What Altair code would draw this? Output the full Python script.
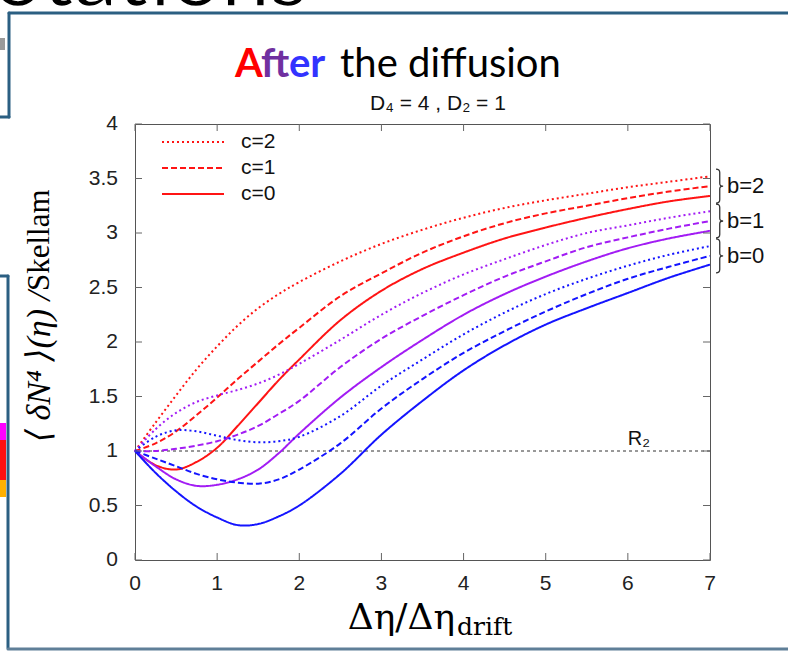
import altair as alt
import pandas as pd

# ---------------- data ----------------
x_vals = [0, 0.25, 0.5, 0.75, 1, 1.25, 1.5, 1.75, 2, 2.5, 3, 3.5, 4, 4.5, 5, 5.5, 6, 6.5, 7]

b2_c2 = [1, 1.26, 1.51, 1.75, 1.96, 2.15, 2.31, 2.44, 2.55, 2.74, 2.90, 3.03, 3.14, 3.23, 3.30, 3.36, 3.42, 3.47, 3.52]
b2_c1 = [1, 1.07, 1.18, 1.33, 1.49, 1.66, 1.82, 1.98, 2.13, 2.42, 2.63, 2.82, 2.97, 3.09, 3.18, 3.25, 3.32, 3.38, 3.43]
b2_c0 = [1, 0.87, 0.83, 0.90, 1.03, 1.23, 1.44, 1.65, 1.84, 2.20, 2.47, 2.67, 2.82, 2.95, 3.05, 3.14, 3.22, 3.29, 3.34]

b1_c2 = [1, 1.20, 1.35, 1.45, 1.51, 1.56, 1.62, 1.70, 1.80, 2.02, 2.25, 2.45, 2.62, 2.76, 2.89, 3.00, 3.07, 3.14, 3.20]
b1_c1 = [1, 1.00, 1.02, 1.05, 1.09, 1.15, 1.23, 1.34, 1.46, 1.77, 2.03, 2.24, 2.43, 2.60, 2.74, 2.87, 2.96, 3.04, 3.11]
b1_c0 = [1, 0.86, 0.74, 0.68, 0.69, 0.74, 0.83, 0.98, 1.16, 1.49, 1.77, 2.02, 2.25, 2.44, 2.60, 2.74, 2.86, 2.95, 3.02]

b0_c2 = [1, 1.13, 1.19, 1.18, 1.14, 1.10, 1.08, 1.09, 1.13, 1.32, 1.60, 1.84, 2.07, 2.27, 2.44, 2.58, 2.70, 2.80, 2.88]
b0_c1 = [1, 0.93, 0.86, 0.79, 0.74, 0.71, 0.70, 0.74, 0.83, 1.07, 1.39, 1.66, 1.90, 2.10, 2.28, 2.44, 2.58, 2.69, 2.79]
b0_c0 = [1, 0.80, 0.63, 0.49, 0.39, 0.32, 0.33, 0.40, 0.50, 0.79, 1.15, 1.46, 1.74, 1.97, 2.16, 2.31, 2.45, 2.59, 2.71]

b_labels = ["b=2", "b=1", "b=0"]
c_labels = ["c=2", "c=1", "c=0"]
x_ticks = [0, 1, 2, 3, 4, 5, 6, 7]
x_tick_labels = ["0", "1", "2", "3", "4", "5", "6", "7"]
y_ticks = [0, 0.5, 1, 1.5, 2, 2.5, 3, 3.5, 4]
y_tick_labels = ["0", "0.5", "1", "1.5", "2", "2.5", "3", "3.5", "4"]
ref_level = [1]
ref_label = ["R₂"]
ref_label_x = [6.0]

series = [
    ("b=2", "c=2", b2_c2), ("b=2", "c=1", b2_c1), ("b=2", "c=0", b2_c0),
    ("b=1", "c=2", b1_c2), ("b=1", "c=1", b1_c1), ("b=1", "c=0", b1_c0),
    ("b=0", "c=2", b0_c2), ("b=0", "c=1", b0_c1), ("b=0", "c=0", b0_c0),
]
rows = []
for b, c, ys in series:
    for xv, yv in zip(x_vals, ys):
        rows.append({"x": xv, "y": yv, "b": b, "c": c})
df = pd.DataFrame(rows)

brace_df = pd.DataFrame({
    "b": b_labels,
    "x": [x_vals[-1]] * 3,
    "y": [b2_c1[-1], b1_c1[-1], b0_c1[-1]],
})
xtick_df = pd.DataFrame({"t": x_ticks, "lab": x_tick_labels})
ytick_df = pd.DataFrame({"t": y_ticks, "lab": y_tick_labels})

# ---------------- layout ----------------
W, H = 575, 436
SANS = "'Liberation Sans', Arial, sans-serif"
SERIF = "'Liberation Serif', 'DejaVu Serif', serif"
DSERIF = "'DejaVu Serif', serif"
TITLE_FONT = "Lato, 'Open Sans', sans-serif"
BRACE = "M0,-1 Q0.22,-1 0.22,-0.8 L0.22,-0.16 Q0.22,0 0.42,0 Q0.22,0 0.22,0.16 L0.22,0.8 Q0.22,1 0,1"

x_scale = alt.Scale(domain=[0, 7], nice=False, zero=False)
y_scale = alt.Scale(domain=[0, 4], nice=False, zero=False)
color_scale = alt.Scale(domain=b_labels, range=["#ff1414", "#a21cf4", "#1414ff"])
dash_scale = alt.Scale(domain=c_labels, range=[[2, 3], [6, 3], [1, 0]])

one = pd.DataFrame({"k": [0]})


def label(text, x, y, size, color="#000000", font=SANS, weight="normal",
          align="left", baseline="alphabetic", angle=0, style="normal"):
    return alt.Chart(one).mark_text(
        text=text, align=align, baseline=baseline, fontSize=size, font=font,
        fontWeight=weight, color=color, angle=angle, fontStyle=style,
    ).encode(x=alt.value(x), y=alt.value(y))


def seg(x1, x2, y1, y2, color="#2b5f82", width=3):
    return alt.Chart(one).mark_rule(color=color, strokeWidth=width, strokeCap="round").encode(
        x=alt.value(x1), x2=alt.value(x2), y=alt.value(y1), y2=alt.value(y2))


def box(x1, x2, y1, y2, color):
    return alt.Chart(one).mark_rect(color=color).encode(
        x=alt.value(x1), x2=alt.value(x2), y=alt.value(y1), y2=alt.value(y2))


# slide decorations (pixel offsets relative to plot origin at 135,124)
deco = [
    alt.Chart(one).mark_text(text="otations", align="left", baseline="alphabetic",
                             fontSize=88, font=TITLE_FONT, color="#000000",
                             stroke="#ffffff", strokeWidth=1.5).encode(
        x=alt.value(-142), y=alt.value(-118)),
    seg(-126, 653, -111, -111),
    seg(-126, -126, -111, -7),
    seg(-135, -126, -7, -7),
    seg(-135, -127, 152, 152),
    seg(-127, -127, 152, 524),
    seg(-127, 653, 525, 525, color="#5f7f98", width=3),
    box(-135, -130, -86, -74, "#9a9a9a"),
    box(-135, -129, 299, 316, "#ff00ff"),
    box(-135, -129, 316, 356, "#ff1010"),
    box(-135, -129, 356, 373, "#ffb000"),
]

ref_line = alt.Chart(pd.DataFrame({"r": ref_level})).mark_rule(
    color="#333333", strokeWidth=1, strokeDash=[3, 3]).encode(
    y=alt.Y("r:Q", scale=y_scale, axis=None))

lines = alt.Chart(df).mark_line(strokeWidth=2, interpolate="catmull-rom").encode(
    x=alt.X("x:Q", scale=x_scale, axis=None),
    y=alt.Y("y:Q", scale=y_scale, axis=None),
    color=alt.Color("b:N", scale=color_scale, legend=None),
    strokeDash=alt.StrokeDash(
        "c:N", scale=dash_scale, sort=c_labels,
        legend=alt.Legend(title=None, orient="none", legendX=47, legendY=7,
                          symbolType="M-3.1,0H3.1", symbolSize=400, symbolStrokeWidth=2,
                          symbolStrokeColor="#ff1414", labelFontSize=21, labelFont=SANS,
                          labelColor="#111111", labelOffset=37, padding=0, rowPadding=5)),
    detail="b:N",
)

t_bottom = alt.Chart(xtick_df).mark_rule(color="#666666", strokeWidth=1).encode(
    x=alt.X("t:Q", scale=x_scale, axis=None), y=alt.value(H), y2=alt.value(H - 7))
t_top = alt.Chart(xtick_df).mark_rule(color="#666666", strokeWidth=1).encode(
    x=alt.X("t:Q", scale=x_scale, axis=None), y=alt.value(0), y2=alt.value(7))
t_left = alt.Chart(ytick_df).mark_rule(color="#666666", strokeWidth=1).encode(
    y=alt.Y("t:Q", scale=y_scale, axis=None), x=alt.value(0), x2=alt.value(7))
t_right = alt.Chart(ytick_df).mark_rule(color="#666666", strokeWidth=1).encode(
    y=alt.Y("t:Q", scale=y_scale, axis=None), x=alt.value(W - 7), x2=alt.value(W))

x_labels = alt.Chart(xtick_df).mark_text(
    align="center", baseline="middle", fontSize=21, font=SANS, color="#222222").encode(
    x=alt.X("t:Q", scale=x_scale, axis=None), y=alt.value(H + 24), text="lab:N")
y_labels = alt.Chart(ytick_df).mark_text(
    align="right", baseline="middle", fontSize=21, font=SANS, color="#222222").encode(
    y=alt.Y("t:Q", scale=y_scale, axis=None), x=alt.value(-17), text="lab:N")

r2 = alt.Chart(pd.DataFrame({"x": ref_label_x, "y": ref_level, "t": ref_label})).mark_text(
    align="left", baseline="alphabetic", dy=-6, fontSize=20, font=SANS, color="#111111").encode(
    x=alt.X("x:Q", scale=x_scale, axis=None), y=alt.Y("y:Q", scale=y_scale, axis=None), text="t:N")

braces = alt.Chart(brace_df).mark_point(
    shape=BRACE, size=1156, filled=False, xOffset=6, color="#333333", strokeWidth=1.3,
    opacity=1).encode(
    x=alt.X("x:Q", scale=x_scale, axis=None), y=alt.Y("y:Q", scale=y_scale, axis=None))
brace_text = alt.Chart(brace_df).mark_text(
    align="left", baseline="middle", dx=17, fontSize=22, font=SANS, color="#111111").encode(
    x=alt.X("x:Q", scale=x_scale, axis=None), y=alt.Y("y:Q", scale=y_scale, axis=None), text="b:N")

titles = [
    label("A", 100, -47, 40, color="#ff0000", font=TITLE_FONT, weight="bold"),
    label("ft", 126, -47, 40, color="#7030a0", font=TITLE_FONT, weight="bold"),
    label("er", 154, -47, 40, color="#3333ff", font=TITLE_FONT, weight="bold"),
    label("the diffusion", 205, -47, 40, color="#000000", font=TITLE_FONT),
    label("D₄ = 4 , D₂ = 1", 303, -14, 21, color="#111111",
          font="'Liberation Sans Narrow', 'Liberation Sans', sans-serif", align="center"),
    label("Δη/Δη", 320, 505, 36, font=DSERIF, align="right"),
    label("drift", 322, 511, 25, font=DSERIF, align="left"),
    label("Skellam", -95, 167, 31, font=SERIF, align="left", baseline="middle", angle=270),
    label("⟨ δN⁴ ⟩(η) /", -95, 167, 34, font=SERIF, align="right", baseline="middle",
          angle=270, style="italic"),
]

chart = alt.layer(
    *deco, ref_line, lines, t_bottom, t_top, t_left, t_right, x_labels, y_labels,
    r2, braces, brace_text, *titles
).properties(
    width=W, height=H,
    padding={"left": 135, "top": 124, "right": 78, "bottom": 92},
    autosize=alt.AutoSizeParams(type="none"),
    background="#ffffff",
).configure_view(stroke="#555555", strokeWidth=1)

chart.save("out.html", embed_options={"renderer": "svg", "actions": False})
